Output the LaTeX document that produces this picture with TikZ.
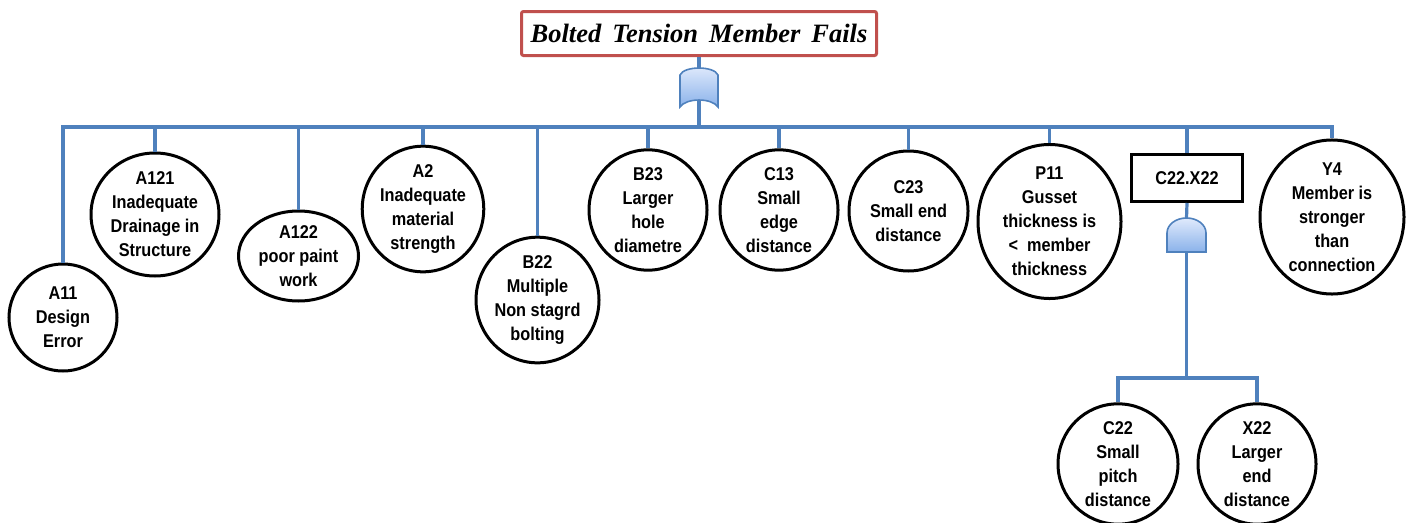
\documentclass[tikz,border=0pt]{standalone}
\usepackage{fontspec}
\setmainfont{Liberation Sans}[FakeStretch=0.88]
\newfontfamily\titlefont{Liberation Serif}
\usetikzlibrary{shapes.geometric}
\definecolor{lineblue}{RGB}{79,129,189}
\definecolor{titlered}{RGB}{192,80,77}
\definecolor{gatelight}{RGB}{224,234,252}
\definecolor{gatedark}{RGB}{138,178,234}
\tikzset{
  evt/.style={ellipse, draw=black, line width=3pt, fill=white, inner sep=0pt, align=center,
    font=\fontsize{18.5}{24}\selectfont\bfseries},
  conn/.style={draw=lineblue, line width=3.2pt},
  gatebox/.style={rectangle, draw=black, line width=3pt, fill=white, inner sep=0pt,
    font=\fontsize{18.5}{24}\selectfont\bfseries},
  titlebox/.style={rectangle, draw=titlered, line width=3pt, rounded corners=2pt, fill=white, inner sep=0pt,
    font=\titlefont\fontsize{26.5}{30}\selectfont\bfseries\itshape},
  gateshape/.style={draw=lineblue, line width=1.6pt, left color=gatelight, right color=gatedark, shading angle=0}
}
\begin{document}
\begin{tikzpicture}[x=1pt,y=-1pt]
\useasboundingbox (0,0) rectangle (1410,522);
\coordinate (bus) at (0,127);
\coordinate (sub) at (0,378);

% top event
\node[titlebox, minimum width=355pt, minimum height=44pt] (top) at (699,33.5) {\spaceskip=11pt Bolted Tension Member Fails};

% gate coordinates
\coordinate (g1in) at (699,68);
\coordinate (g1out) at (699,100);
\coordinate (g2in) at (1186.5,218);
\coordinate (g2out) at (1186.5,252);

% basic events
\node[evt, minimum width=108pt, minimum height=107pt] (A11) at (63,317.5) {A11\\Design\\Error};
\node[evt, minimum width=128pt, minimum height=123pt] (A121) at (155,214.5) {A121\\Inadequate\\Drainage in\\Structure};
\node[evt, minimum width=120pt, minimum height=90pt] (A122) at (298.5,256) {A122\\poor paint\\work};
\node[evt, minimum width=116pt, minimum height=116pt] (A2) at (423,209) {A2\\Inadequate\\material\\strength};
\node[evt, minimum width=123pt, minimum height=122pt] (B22) at (537.5,300) {B22\\Multiple\\Non stagrd\\bolting};
\node[evt, minimum width=118pt, minimum height=114pt] (B23) at (648,210) {B23\\Larger\\hole\\diametre};
\node[evt, minimum width=118pt, minimum height=118pt] (C13) at (779,210) {C13\\Small\\edge\\distance};
\node[evt, minimum width=119pt, minimum height=120pt] (C23) at (908.5,211) {C23\\Small end\\distance};
\node[evt, minimum width=143pt, minimum height=145pt] (P11) at (1049.5,221.5) {P11\\Gusset\\thickness is\\< \ member\\thickness};
\node[gatebox, minimum width=111pt, minimum height=47pt] (CX) at (1187,178) {C22.X22};
\node[evt, minimum width=144pt, minimum height=144pt] (Y4) at (1332,217) {Y4\\Member is\\stronger\\than\\connection};
\node[evt, minimum width=120pt, minimum height=120pt] (C22) at (1118,464) {C22\\Small\\pitch\\distance};
\node[evt, minimum width=118pt, minimum height=120pt] (X22) at (1257,464) {X22\\Larger\\end\\distance};

% connectors
\draw[conn] (top.south) -- (g1in);
\draw[conn] (g1out) -- (g1out |- bus);
\draw[conn] (A11.north) |- (Y4.north |- bus) -- (Y4.north);
\foreach \n in {A121,A122,A2,B22,B23,C13,C23,P11,CX}
  \draw[conn] (\n.north |- bus) -- (\n.north);
\draw[conn] (CX.south) -- (g2in);
\draw[conn] (g2out) -- (g2out |- sub);
\draw[conn] (C22.north) |- (X22.north |- sub) -- (X22.north);

% OR gate (top)
\path[gateshape] (680,107) -- (680,75) .. controls (684,65.7) and (714,65.7) .. (718,75)
  -- (718,107) .. controls (712,97.7) and (686,97.7) .. (680,107) -- cycle;
% AND gate
\path[gateshape] (1167,252) -- (1167,233) .. controls (1167,224.7) and (1175.7,218) .. (g2in)
  .. controls (1197.3,218) and (1206,224.7) .. (1206,233) -- (1206,252) -- cycle;
\end{tikzpicture}
\end{document}
